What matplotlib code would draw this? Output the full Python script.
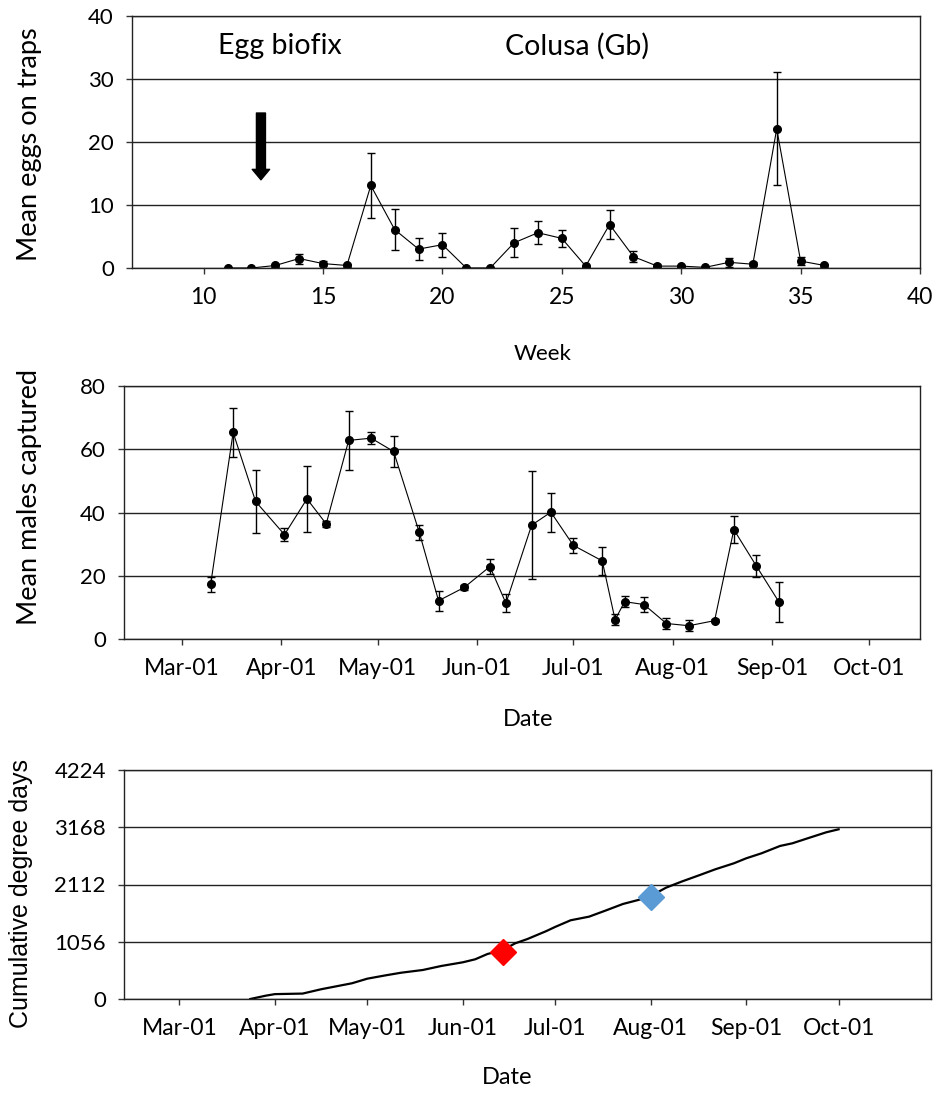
import matplotlib
matplotlib.use('Agg')
import matplotlib.pyplot as plt
import matplotlib.dates as mdates
import numpy as np

plt.rcParams['font.family'] = ['Lato', 'DejaVu Sans']

# ---- top: eggs on traps per week
weeks = [11, 12, 13, 14, 15, 16, 17, 18, 19, 20, 21, 22, 23, 24, 25, 26,
         27, 28, 29, 30, 31, 32, 33, 34, 35, 36]
eggs = [0, 0, 0.4, 1.5, 0.7, 0.4, 13.1, 6.1, 3.0, 3.7, 0, 0, 4.0, 5.6, 4.7,
        0.3, 6.9, 1.8, 0.3, 0.3, 0.1, 0.9, 0.6, 22.1, 1.1, 0.4]
eggs_err = [0, 0, 0.3, 0.8, 0.4, 0.2, 5.1, 3.3, 1.7, 1.9, 0, 0, 2.3, 1.8, 1.4,
            0.2, 2.3, 0.9, 0.3, 0.2, 0.1, 0.7, 0.3, 9.0, 0.6, 0.2]

# ---- middle: males captured
trap_dates = np.array(['2001-03-10', '2001-03-17', '2001-03-24', '2001-04-02',
                       '2001-04-09', '2001-04-15', '2001-04-22', '2001-04-29',
                       '2001-05-06', '2001-05-14', '2001-05-20', '2001-05-28',
                       '2001-06-05', '2001-06-10', '2001-06-18', '2001-06-24',
                       '2001-07-01', '2001-07-10', '2001-07-14', '2001-07-17',
                       '2001-07-23', '2001-07-30', '2001-08-06', '2001-08-14',
                       '2001-08-20', '2001-08-27', '2001-09-03'], dtype='datetime64[D]')
males = [17.3, 65.3, 43.5, 33.0, 44.3, 36.4, 62.8, 63.5, 59.3, 33.7, 12.1, 16.3,
         22.9, 11.3, 36.0, 40.1, 29.6, 24.7, 6.1, 11.8, 10.9, 4.9, 4.2, 5.8,
         34.6, 23.1, 11.8]
males_err = [2.4, 7.8, 10.0, 2.0, 10.4, 1.0, 9.4, 1.8, 4.8, 2.4, 3.2, 0.8,
             2.3, 2.8, 17.0, 6.2, 2.4, 4.5, 1.8, 1.7, 2.5, 1.8, 1.7, 0.5,
             4.4, 3.6, 6.3]

# ---- bottom: cumulative degree days
dd_dates = np.array(['2001-03-24', '2001-03-29', '2001-04-01', '2001-04-10',
                     '2001-04-16', '2001-04-26', '2001-05-01', '2001-05-07',
                     '2001-05-12', '2001-05-19', '2001-05-25', '2001-06-01',
                     '2001-06-05', '2001-06-09', '2001-06-14', '2001-06-18',
                     '2001-06-22', '2001-06-28', '2001-07-01', '2001-07-06',
                     '2001-07-12', '2001-07-17', '2001-07-23', '2001-07-28',
                     '2001-08-01', '2001-08-06', '2001-08-11', '2001-08-17',
                     '2001-08-22', '2001-08-28', '2001-09-01', '2001-09-06',
                     '2001-09-12', '2001-09-16', '2001-09-21', '2001-09-27',
                     '2001-10-01'], dtype='datetime64[D]')
dd_values = [0, 61, 90, 100, 180, 290, 375, 437, 485, 535, 609, 677, 732, 830,
             903, 1027, 1107, 1250, 1330, 1452, 1519, 1624, 1753, 1827, 1900,
             2054, 2165, 2288, 2393, 2503, 2595, 2688, 2823, 2872, 2965, 3075,
             3130]
red_date, red_value = np.datetime64('2001-06-14'), 860
blue_date, blue_value = np.datetime64('2001-08-01'), 1888

month_ticks = np.array(['2001-03-01', '2001-04-01', '2001-05-01', '2001-06-01',
                        '2001-07-01', '2001-08-01', '2001-09-01', '2001-10-01'],
                       dtype='datetime64[D]')

W, H = 937, 1095
fig = plt.figure(figsize=(W / 100, H / 100), dpi=100)


def box(l, t, r, b):
    return [l / W, 1 - b / H, (r - l) / W, (b - t) / H]


def style(ax):
    ax.yaxis.grid(True, color='#222222', lw=1.0)
    ax.set_axisbelow(True)
    for s in ax.spines.values():
        s.set_color('#222222')
        s.set_linewidth(1.0)
    ax.tick_params(axis='x', direction='out', length=4, width=1,
                   labelsize=16.5, pad=10, color='#333333')
    ax.tick_params(axis='y', direction='out', length=4, width=1,
                   labelsize=16, pad=9, color='#333333')


# top panel
ax1 = fig.add_axes(box(132, 16, 920, 268))
ax1.errorbar(weeks, eggs, yerr=eggs_err, color='black', lw=0.8, marker='o',
             ms=5.5, elinewidth=1.0, capsize=3.2, capthick=1.0)
ax1.set_xlim(7, 40)
ax1.set_ylim(0, 40)
ax1.set_xticks([10, 15, 20, 25, 30, 35, 40])
ax1.set_yticks([0, 10, 20, 30, 40])
style(ax1)
ax1.text(10.6, 35.2, 'Egg biofix', fontsize=20.5, va='center', ha='left')
ax1.text(22.6, 35.2, 'Colusa (Gb)', fontsize=20.5, va='center', ha='left')
ax1.annotate('', xy=(12.4, 14.0), xytext=(12.4, 24.6),
             arrowprops=dict(arrowstyle='simple,head_width=1.25,head_length=0.75,tail_width=0.65',
                             color='black', shrinkA=0, shrinkB=0, mutation_scale=10))

# middle panel
ax2 = fig.add_axes(box(124, 386, 920, 639))
ax2.errorbar(trap_dates, males, yerr=males_err, color='black', lw=0.8,
             marker='o', ms=5.5, elinewidth=1.0, capsize=3.2, capthick=1.0)
ax2.set_xlim(np.datetime64('2001-02-11'), np.datetime64('2001-10-17'))
ax2.set_ylim(0, 80)
ax2.set_yticks([0, 20, 40, 60, 80])
ax2.set_xticks(month_ticks)
ax2.xaxis.set_major_formatter(mdates.DateFormatter('%b-%y'))
style(ax2)

# bottom panel
ax3 = fig.add_axes(box(124, 770, 931, 999))
ax3.plot(dd_dates, dd_values, color='black', lw=1.6)
ax3.plot([red_date], [red_value], marker='D', ms=13.5, color='#FF0000', ls='none')
ax3.plot([blue_date], [blue_value], marker='D', ms=13.5, color='#5B9BD5', ls='none')
ax3.set_xlim(np.datetime64('2001-02-11'), np.datetime64('2001-10-31'))
ax3.set_ylim(0, 4224)
ax3.set_yticks([0, 1056, 2112, 3168, 4224])
ax3.set_xticks(month_ticks)
ax3.xaxis.set_major_formatter(mdates.DateFormatter('%b-%y'))
style(ax3)

# axis titles
fig.text(30 / W, 1 - 144 / H, 'Mean eggs on traps', rotation=90, fontsize=19.5,
         ha='center', va='center')
fig.text(543 / W, 1 - 354 / H, 'Week', fontsize=16, ha='center', va='center')
fig.text(30 / W, 1 - 497 / H, 'Mean males captured', rotation=90, fontsize=19.5,
         ha='center', va='center')
fig.text(528 / W, 1 - 720 / H, 'Date', fontsize=17, ha='center', va='center')
fig.text(21 / W, 1 - 894 / H, 'Cumulative degree days', rotation=90, fontsize=18,
         ha='center', va='center', family=['Liberation Sans', 'DejaVu Sans'])
fig.text(507 / W, 1 - 1078 / H, 'Date', fontsize=17, ha='center', va='center')

fig.savefig('out.png', dpi=100)
